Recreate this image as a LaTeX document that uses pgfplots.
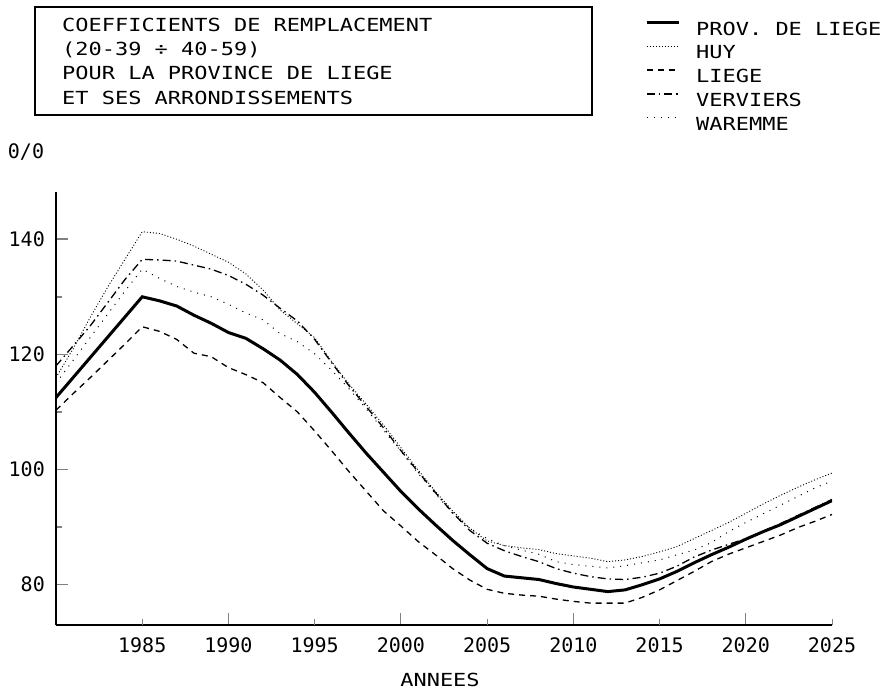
\documentclass[border=0pt]{standalone}
\usepackage{fontspec}
\usepackage{pgfplots}
\pgfplotsset{compat=1.18}
\newfontfamily\plotfont[FakeStretch=1.22]{DejaVu Sans Mono}
\newfontfamily\tickfont{DejaVu Sans Mono}
\newcommand\TF{\plotfont\fontsize{18}{24.3}\selectfont}
\newcommand\NF{\tickfont\fontsize{20}{20}\selectfont}

\pgfplotstableread{
year prov huy liege verv warem
1980 112.5 116.0 110.3 118.0 115.0
1981 116.0 121.0 113.2 121.5 119.0
1982 119.5 126.5 116.0 125.0 123.0
1983 123.0 131.7 118.9 129.0 127.0
1984 126.5 136.5 121.8 133.0 131.0
1985 130.0 141.3 124.8 136.5 134.8
1986 129.3 141.0 124.0 136.4 133.2
1987 128.4 140.0 122.6 136.2 131.8
1988 126.8 138.8 120.2 135.5 130.8
1989 125.4 137.4 119.6 134.8 130.0
1990 123.8 136.0 117.7 133.7 128.7
1991 122.8 134.0 116.5 132.2 127.2
1992 121.0 131.2 115.1 130.3 126.0
1993 119.0 127.7 112.5 128.0 123.6
1994 116.5 125.3 110.0 125.8 122.2
1995 113.4 122.9 106.7 122.6 120.1
1996 109.9 118.7 103.2 118.5 117.2
1997 106.3 114.8 99.6 114.5 114.0
1998 102.8 111.3 96.2 110.9 110.5
1999 99.5 107.7 92.8 107.2 106.8
2000 96.2 103.8 90.2 103.3 103.2
2001 93.2 99.9 87.5 99.6 99.3
2002 90.4 96.2 85.2 96.0 95.8
2003 87.7 92.8 82.8 92.5 92.4
2004 85.2 89.8 80.8 89.4 89.8
2005 82.8 87.6 79.2 87.2 88.0
2006 81.5 86.8 78.5 85.9 86.8
2007 81.2 86.4 78.2 84.9 86.0
2008 80.9 86.1 78.0 84.0 85.3
2009 80.2 85.4 77.5 82.8 84.0
2010 79.6 85.0 77.1 82.0 83.5
2011 79.2 84.6 76.8 81.4 83.2
2012 78.8 84.0 76.8 81.0 82.9
2013 79.1 84.3 76.8 80.9 83.3
2014 80.0 84.9 77.8 81.3 83.8
2015 81.0 85.7 79.1 82.0 84.3
2016 82.3 86.6 80.7 83.2 85.2
2017 83.8 88.0 82.3 84.8 86.0
2018 85.2 89.4 84.0 86.0 87.3
2019 86.5 90.8 85.3 87.0 89.2
2020 87.9 92.4 86.4 88.0 90.8
2021 89.2 94.0 87.5 89.3 92.3
2022 90.4 95.5 88.6 90.6 93.8
2023 91.8 96.9 89.9 92.0 95.3
2024 93.2 98.2 91.0 93.4 96.8
2025 94.6 99.4 92.2 94.8 98.0
}\data

\begin{document}
\begin{tikzpicture}
\useasboundingbox (0pt,0pt) rectangle (886pt,699pt);
% title box
\draw[line width=1.2pt] (35pt,692pt) rectangle (592pt,584pt);
\node[anchor=base west, inner sep=0pt, font=\TF] at (62pt,667.5pt) {COEFFICIENTS DE REMPLACEMENT};
\node[anchor=base west, inner sep=0pt, font=\TF] at (62pt,643.5pt) {(20-39 ÷ 40-59)};
\node[anchor=base west, inner sep=0pt, font=\TF] at (62pt,619pt) {POUR LA PROVINCE DE LIEGE};
\node[anchor=base west, inner sep=0pt, font=\TF] at (62pt,594.5pt) {ET SES ARRONDISSEMENTS};
% axis unit label and x title
\node[inner sep=0pt, font=\NF] at (26pt,547pt) {0/0};
\node[inner sep=0pt, font=\TF] at (440pt,19pt) {ANNEES};
\begin{axis}[
  at={(56pt,74pt)}, anchor=south west,
  scale only axis, width=776pt, height=433pt,
  xmin=1980, xmax=2025, ymin=73, ymax=148.2,
  axis x line*=bottom, axis y line*=left,
  x axis line style={-, line width=2pt},
  y axis line style={-, line width=1.2pt},
  tick align=inside,
  xtick={1990,2000,2010,2020},
  extra x ticks={1985,1995,2005,2015,2025},
  extra tick style={major tick length=6pt},
  ytick={80,100,120,140},
  minor ytick={90,110,130},
  major tick length=12pt, minor tick length=6pt,
  ytick style={line width=1.6pt},
  xtick style={line width=0.9pt},
  /pgf/number format/1000 sep={},
  /pgf/number format/assume math mode=true,
  ticklabel style={font=\NF, inner sep=0pt},
  yticklabel style={anchor=east, xshift=-11pt},
  xticklabel style={anchor=north, yshift=-12pt},
  legend style={at={(0.759,1.396)}, anchor=north west, draw=none, fill=none,
    inner sep=0pt, font=\TF, row sep=10.3pt,
    nodes={inner sep=0pt, text height=13pt, text depth=0pt}},
  legend cell align=left,
  legend image code/.code={\draw[#1] (0pt,6.5pt) -- (32pt,6.5pt); \path (48pt,6.5pt);},
]
\addplot[black, line width=3pt] table[x=year,y=prov] {\data};
\addlegendentry{PROV. DE LIEGE}
\addplot[black, line width=0.9pt, dash pattern=on 1pt off 2pt] table[x=year,y=huy] {\data};
\addlegendentry{HUY}
\addplot[black, line width=1.3pt, dash pattern=on 6pt off 5pt] table[x=year,y=liege] {\data};
\addlegendentry{LIEGE}
\addplot[black, line width=1.3pt, dash pattern=on 8pt off 4pt on 1.5pt off 4pt] table[x=year,y=verv] {\data};
\addlegendentry{VERVIERS}
\addplot[black, line width=1pt, dash pattern=on 1pt off 6pt] table[x=year,y=warem] {\data};
\addlegendentry{WAREMME}
\end{axis}
\end{tikzpicture}
\end{document}
